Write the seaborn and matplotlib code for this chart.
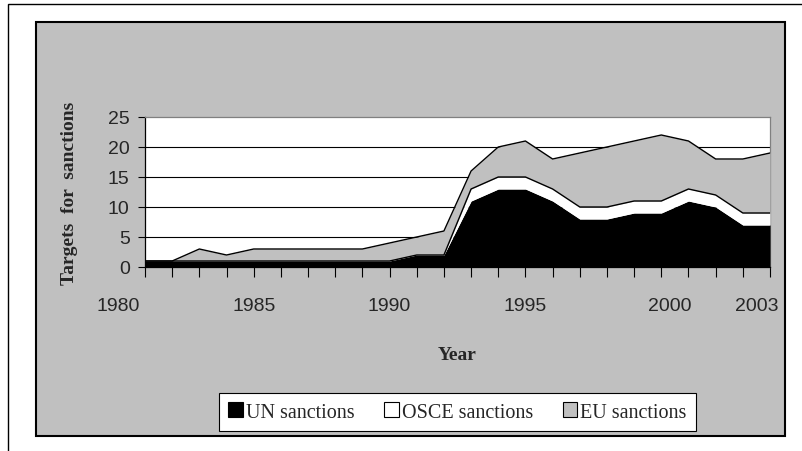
import numpy as np
import pandas as pd
import matplotlib
matplotlib.use("Agg")
import matplotlib.pyplot as plt
import seaborn as sns
from matplotlib.patches import Patch, Rectangle
import matplotlib.transforms as mtransforms

# datos
years = list(range(1981, 2005))
un = [1, 1, 1, 1, 1, 1, 1, 1, 1, 1, 2, 2, 11, 13, 13, 11, 8, 8, 9, 9, 11, 10, 7, 7]
osce = [0, 0, 0, 0, 0, 0, 0, 0, 0, 0, 0, 0, 2, 2, 2, 2, 2, 2, 2, 2, 2, 2, 2, 2]
eu = [0, 0, 2, 1, 2, 2, 2, 2, 2, 3, 3, 4, 3, 5, 6, 5, 9, 10, 10, 11, 8, 6, 9, 10]

series_names = ["UN sanctions", "OSCE sanctions", "EU sanctions"]
series_colors = ["black", "white", "#C0C0C0"]

year_labels = ["1980", "1985", "1990", "1995", "2000", "2003"]
year_label_pos = [1980, 1985, 1990, 1995, 2000.3, 2003.5]
y_ticks = [0, 5, 10, 15, 20, 25]

df = pd.DataFrame({"year": years, "UN": un, "OSCE": osce, "EU": eu})
df["UN_OSCE"] = df["UN"] + df["OSCE"]
df["total"] = df["UN_OSCE"] + df["EU"]

sns.set_theme(style="white")
plt.rcParams["font.family"] = ["Liberation Sans", "DejaVu Sans"]

fig = plt.figure(figsize=(8.02, 4.52), dpi=100)

# marco exterior y fondo gris
fig.patches.append(Rectangle((8 / 802, -0.1), 1.2, 1.1 - 5 / 452, transform=fig.transFigure,
                             facecolor="white", edgecolor="black", linewidth=1.0, zorder=0))
fig.patches.append(Rectangle((36 / 802, 1 - 437 / 452), (785 - 36) / 802, (437 - 23) / 452,
                             transform=fig.transFigure, facecolor="#C0C0C0",
                             edgecolor="black", linewidth=1.5, zorder=1))

ax = fig.add_axes([145 / 802, 1 - 268 / 452, 625 / 802, 150 / 452])
ax.set_zorder(2)
ax.set_facecolor("white")

ax.stackplot(df["year"], df["UN"], df["OSCE"], df["EU"], colors=series_colors,
             linewidth=0, zorder=3)
sns.lineplot(data=df, x="year", y="UN_OSCE", color="black", linewidth=1.0, ax=ax, zorder=4)
sns.lineplot(data=df, x="year", y="total", color="black", linewidth=1.0, ax=ax, zorder=4)

ax.set_xlim(1981, 2004)
ax.set_ylim(0, 25)
ax.set_yticks(y_ticks)
ax.set_yticklabels([str(t) for t in y_ticks], fontsize=14)
for t in y_ticks[1:-1]:
    ax.axhline(t, color="black", linewidth=0.8, zorder=2)

ax.set_xticks(years)
ax.set_xticklabels([])
ax.tick_params(axis="x", direction="out", length=7, width=0.8, color="black", bottom=True)
ax.tick_params(axis="y", direction="out", length=5, width=0.8, color="black", left=True, pad=6)

trans = mtransforms.blended_transform_factory(ax.transData, ax.transAxes)
for pos, lab in zip(year_label_pos, year_labels):
    ax.text(pos, -0.255, lab, transform=trans, ha="center", va="center",
            fontsize=14, clip_on=False)

for side in ["left", "bottom"]:
    ax.spines[side].set_color("black")
    ax.spines[side].set_linewidth(0.9)
for side in ["top", "right"]:
    ax.spines[side].set_color("#808080")
    ax.spines[side].set_linewidth(0.9)
    ax.spines[side].set_visible(True)

ax.set_xlabel("Year", fontsize=14, fontweight="bold", family=["Liberation Serif"])
ax.xaxis.set_label_coords(0.5, -0.53)
ax.set_ylabel("Targets  for  sanctions", fontsize=14, fontweight="bold",
              family=["Liberation Serif"])
ax.yaxis.set_label_coords(-0.107, 0.5)

handles = [Patch(facecolor=c, edgecolor="black", linewidth=0.8) for c in series_colors]
leg = fig.legend(handles, series_names, loc="center", ncol=3,
                 bbox_to_anchor=(457.5 / 802, 1 - 413 / 452),
                 prop={"family": "Liberation Serif", "size": 14.5},
                 handlelength=0.7, handleheight=0.7, handletextpad=0.15,
                 columnspacing=1.5, frameon=True, fancybox=False, framealpha=1,
                 edgecolor="black", borderpad=0.45)
leg.get_frame().set_linewidth(0.8)
leg.set_zorder(5)

fig.savefig("out.png", dpi=100)
